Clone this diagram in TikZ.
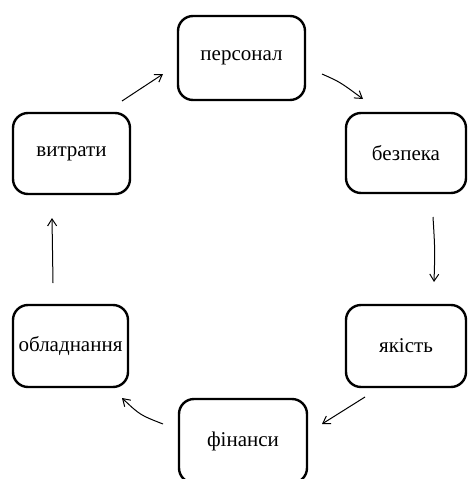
\documentclass[tikz,border=0pt]{standalone}
\usepackage{fontspec}
\setmainfont{Liberation Serif}
\usetikzlibrary{arrows.meta}
\begin{document}
\begin{tikzpicture}[x=1pt,y=-1pt,
  box/.style={draw=black, line width=2.4pt, rounded corners=15pt, inner sep=0pt,
    font=\fontsize{21}{23}\selectfont},
  conn/.style={draw=black, line width=1pt, -{Straight Barb[length=7pt,width=9pt]}}]
\useasboundingbox (0,0) rectangle (467,479);
\clip (0,0) rectangle (467,479);
\node[box, minimum width=127pt, minimum height=84pt] (pers) at (241.5,58) {персонал};
\node[box, minimum width=120pt, minimum height=80pt] (bezp) at (406,153) {безпека};
\node[box, minimum width=117pt, minimum height=81pt] (vytr) at (71.5,153.5) {витрати};
\node[box, minimum width=120pt, minimum height=82pt] (yak) at (406,346) {якість};
\node[box, minimum width=115pt, minimum height=82pt] (obl) at (70.5,346) {обладнання};
\node[box, minimum width=128pt, minimum height=84pt] (fin) at (243,441) {фінанси};
\coordinate (a1s) at (122,101); \coordinate (a1e) at (163,74);
\coordinate (a2s) at (322,74); \coordinate (a2e) at (363,99);
\coordinate (a3s) at (433,217); \coordinate (a3e) at (434,282);
\coordinate (a4s) at (53,283); \coordinate (a4e) at (52,218);
\coordinate (a5s) at (365,397); \coordinate (a5e) at (322,424);
\coordinate (a6s) at (163,424); \coordinate (a6e) at (122,398);
\draw[conn] (a1s) -- (a1e);
\draw[conn] (a2s) .. controls (340,82) .. (a2e);
\draw[conn] (a3s) .. controls (435,250) .. (a3e);
\draw[conn] (a4s) -- (a4e);
\draw[conn] (a5s) -- (a5e);
\draw[conn] (a6s) .. controls (140,415) .. (a6e);
\end{tikzpicture}
\end{document}
